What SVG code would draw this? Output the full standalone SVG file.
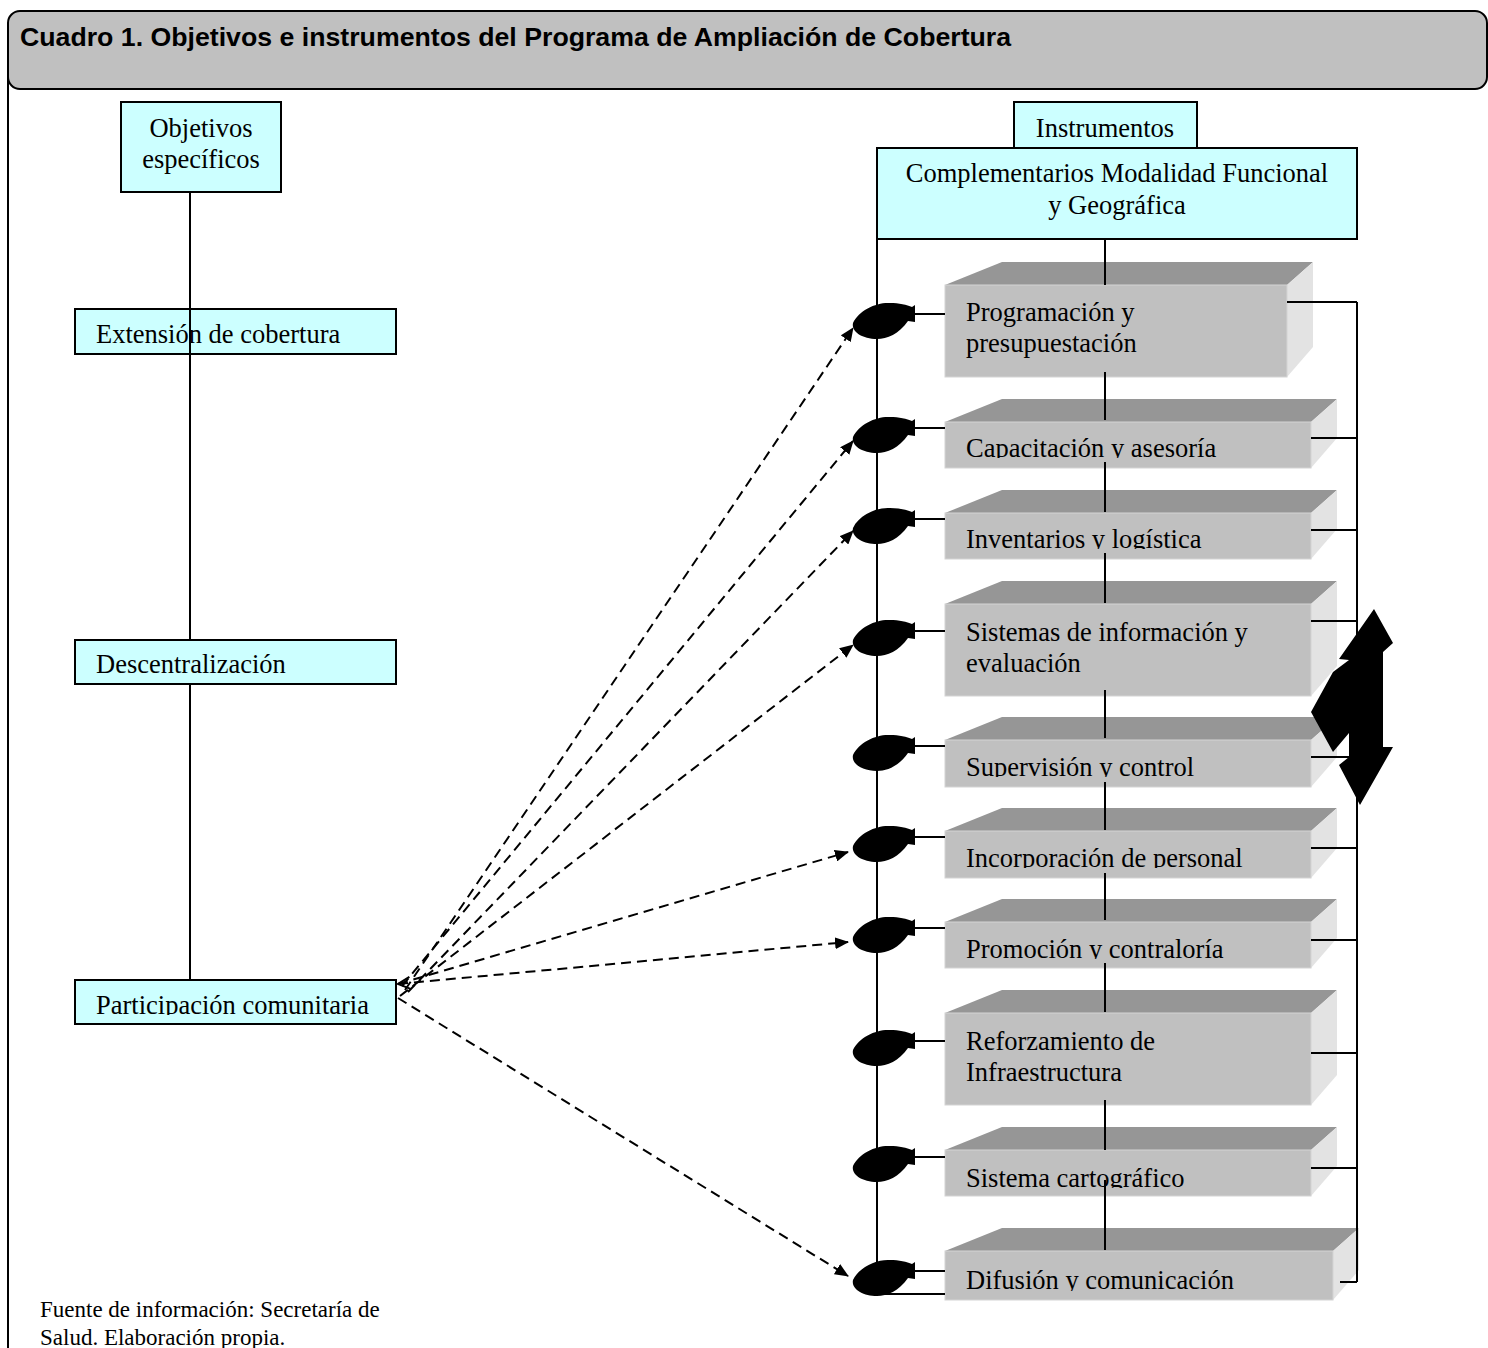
<svg xmlns="http://www.w3.org/2000/svg" width="1488" height="1348" viewBox="0 0 1488 1348">
<style>
.t{font-family:"Liberation Serif","Times New Roman",serif;font-size:26.5px;fill:#000}
.f{font-family:"Liberation Serif","Times New Roman",serif;font-size:23px;fill:#000}
.cy{fill:#ccffff;stroke:#000;stroke-width:2}
.fr{fill:#c0c0c0;stroke:#d4d4d4;stroke-width:1}
.tp{fill:#969696}
.sd{fill:#e3e3e3}
.ln{stroke:#000;stroke-width:2;fill:none}
.ds{stroke:#000;stroke-width:2;fill:none;stroke-dasharray:10 6}
.bl{fill:#000}
</style>
<defs>
<marker id="ah" markerUnits="userSpaceOnUse" markerWidth="14" markerHeight="12" refX="13" refY="6" orient="auto">
<path d="M0,0 L14,6 L0,12 Z" fill="#000"/>
</marker>
<marker id="oa" markerUnits="userSpaceOnUse" markerWidth="14" markerHeight="14" refX="1" refY="7" orient="auto">
<path d="M13,1 L1,7 L13,13" fill="none" stroke="#000" stroke-width="2"/>
</marker>
<path id="blob" d="M-24,9 C-18,-4 0,-12 13,-11 C22,-11 30,-9 35,-7 L38,-9 L38,8 L31,7 C22,20 10,25 0,25 C-14,25 -26,18 -24,9 Z"/>
<clipPath id="c2"><rect x="945" y="400" width="400" height="58"/></clipPath>
<clipPath id="c3"><rect x="945" y="490" width="400" height="59"/></clipPath>
<clipPath id="c5"><rect x="945" y="717" width="400" height="60"/></clipPath>
<clipPath id="c6"><rect x="945" y="808" width="400" height="60"/></clipPath>
<clipPath id="c7"><rect x="945" y="899" width="400" height="60"/></clipPath>
<clipPath id="c9"><rect x="945" y="1127" width="400" height="61"/></clipPath>
<clipPath id="c10"><rect x="945" y="1228" width="400" height="63"/></clipPath>
<clipPath id="cp"><rect x="75" y="980" width="321" height="35"/></clipPath>
</defs>
<rect width="1488" height="1348" fill="#fff"/>

<g id="frame">
<line x1="8" y1="70" x2="8" y2="1348" class="ln"/>
<rect x="8" y="11" width="1479" height="78" rx="12" fill="#c0c0c0" stroke="#000" stroke-width="2"/>
<text x="20" y="46" font-family="Liberation Sans,Arial,sans-serif" font-weight="bold" font-size="26.7">Cuadro 1. Objetivos e instrumentos del Programa de Ampliación de Cobertura</text>
</g>

<g id="objetivos">
<rect x="121" y="102" width="160" height="90" class="cy"/>
<text class="t" x="201" y="137" text-anchor="middle">Objetivos</text>
<text class="t" x="201" y="168" text-anchor="middle">específicos</text>
</g>
<g id="extension">
<rect x="75" y="309" width="321" height="45" class="cy"/>
<text class="t" x="96" y="343">Extensión de cobertura</text>
</g>
<g id="descentralizacion">
<rect x="75" y="640" width="321" height="44" class="cy"/>
<text class="t" x="96" y="673">Descentralización</text>
</g>
<g id="participacion">
<rect x="75" y="980" width="321" height="44" class="cy"/>
<text class="t" x="96" y="1014" clip-path="url(#cp)">Participación comunitaria</text>
</g>

<g id="instrumentos">
<rect x="1014" y="102" width="183" height="46" class="cy"/>
<text class="t" x="1105" y="137" text-anchor="middle">Instrumentos</text>
</g>
<g id="complementarios">
<rect x="877" y="148" width="480" height="91" class="cy"/>
<text class="t" x="1117" y="182" text-anchor="middle">Complementarios Modalidad Funcional</text>
<text class="t" x="1117" y="214" text-anchor="middle">y Geográfica</text>
</g>

<g id="box1">
<polygon class="tp" points="945,285 1002,262 1313,262 1287,285"/>
<polygon class="sd" points="1287,285 1313,262 1313,347 1287,377"/>
<rect class="fr" x="945" y="285" width="342" height="92"/>
<text class="t" x="966" y="321">Programación y</text>
<text class="t" x="966" y="352">presupuestación</text>
</g>
<g id="box2">
<polygon class="tp" points="945,422 1002,399 1337,399 1311,422"/>
<polygon class="sd" points="1311,422 1337,399 1337,438 1311,468"/>
<rect class="fr" x="945" y="422" width="366" height="46"/>
<text class="t" x="966" y="457" clip-path="url(#c2)">Capacitación y asesoría</text>
</g>
<g id="box3">
<polygon class="tp" points="945,513 1002,490 1337,490 1311,513"/>
<polygon class="sd" points="1311,513 1337,490 1337,529 1311,559"/>
<rect class="fr" x="945" y="513" width="366" height="46"/>
<text class="t" x="966" y="548" clip-path="url(#c3)">Inventarios y logística</text>
</g>
<g id="box4">
<polygon class="tp" points="945,604 1002,581 1337,581 1311,604"/>
<polygon class="sd" points="1311,604 1337,581 1337,666 1311,696"/>
<rect class="fr" x="945" y="604" width="366" height="92"/>
<text class="t" x="966" y="641">Sistemas de información y</text>
<text class="t" x="966" y="672">evaluación</text>
</g>
<g id="box5">
<polygon class="tp" points="945,740 1002,717 1337,717 1311,740"/>
<polygon class="sd" points="1311,740 1337,717 1337,757 1311,787"/>
<rect class="fr" x="945" y="740" width="366" height="47"/>
<text class="t" x="966" y="776" clip-path="url(#c5)">Supervisión y control</text>
</g>
<g id="box6">
<polygon class="tp" points="945,831 1002,808 1337,808 1311,831"/>
<polygon class="sd" points="1311,831 1337,808 1337,848 1311,878"/>
<rect class="fr" x="945" y="831" width="366" height="47"/>
<text class="t" x="966" y="867" clip-path="url(#c6)">Incorporación de personal</text>
</g>
<g id="box7">
<polygon class="tp" points="945,922 1002,899 1337,899 1311,922"/>
<polygon class="sd" points="1311,922 1337,899 1337,938 1311,968"/>
<rect class="fr" x="945" y="922" width="366" height="46"/>
<text class="t" x="966" y="958" clip-path="url(#c7)">Promoción y contraloría</text>
</g>
<g id="box8">
<polygon class="tp" points="945,1013 1002,990 1337,990 1311,1013"/>
<polygon class="sd" points="1311,1013 1337,990 1337,1075 1311,1105"/>
<rect class="fr" x="945" y="1013" width="366" height="92"/>
<text class="t" x="966" y="1050">Reforzamiento de</text>
<text class="t" x="966" y="1081">Infraestructura</text>
</g>
<g id="box9">
<polygon class="tp" points="945,1150 1002,1127 1337,1127 1311,1150"/>
<polygon class="sd" points="1311,1150 1337,1127 1337,1166 1311,1196"/>
<rect class="fr" x="945" y="1150" width="366" height="46"/>
<text class="t" x="966" y="1187" clip-path="url(#c9)">Sistema cartográfico</text>
</g>
<g id="box10">
<polygon class="tp" points="945,1251 1002,1228 1359,1228 1333,1251"/>
<polygon class="sd" points="1333,1251 1359,1228 1359,1270 1333,1300"/>
<rect class="fr" x="945" y="1251" width="388" height="49"/>
<text class="t" x="966" y="1289" clip-path="url(#c10)">Difusión y comunicación</text>
</g>

<g id="connectors">
<path class="ln" d="M190,192 V640 M190,684 V980"/>
<line x1="877" y1="239" x2="877" y2="1294" class="ln"/>
<line x1="877" y1="1294" x2="945" y2="1294" class="ln"/>
<path class="ln" d="M1105,239 V285 M1105,372 V420 M1105,462 V512 M1105,553 V603 M1105,690 V738 M1105,782 V830 M1105,873 V920 M1105,963 V1012 M1105,1100 V1150 M1105,1180 V1250"/>
<line x1="1357" y1="302" x2="1357" y2="1282" class="ln"/>
<path class="ln" d="M1287,302 H1357 M1311,438 H1357 M1311,530 H1357 M1311,621 H1357 M1311,757 H1357 M1311,848 H1357 M1311,940 H1357 M1311,1053 H1357 M1311,1168 H1357 M1340,1282 H1357"/>
<path class="ln" d="M915,314 H945 M915,428 H945 M915,519 H945 M915,631 H945 M915,746 H945 M915,837 H945 M915,928 H945 M915,1041 H945 M915,1157 H945 M915,1271 H945"/>
<use href="#blob" x="877" y="314" class="bl"/>
<use href="#blob" x="877" y="428" class="bl"/>
<use href="#blob" x="877" y="519" class="bl"/>
<use href="#blob" x="877" y="631" class="bl"/>
<use href="#blob" x="877" y="746" class="bl"/>
<use href="#blob" x="877" y="837" class="bl"/>
<use href="#blob" x="877" y="928" class="bl"/>
<use href="#blob" x="877" y="1041" class="bl"/>
<use href="#blob" x="877" y="1157" class="bl"/>
<use href="#blob" x="877" y="1271" class="bl"/>
<polygon class="bl" points="1374,609 1393,643 1383,652 1383,747 1393,747 1360,805 1339,765 1349,757 1349,733 1333,752 1311,712 1333,672 1349,660 1339,659"/>
<line x1="405" y1="990" x2="853" y2="328" class="ds" marker-end="url(#ah)"/>
<line x1="402" y1="986" x2="853" y2="441" class="ds" marker-end="url(#ah)"/>
<line x1="408" y1="992" x2="853" y2="531" class="ds" marker-end="url(#ah)"/>
<line x1="400" y1="996" x2="853" y2="645" class="ds" marker-end="url(#ah)"/>
<line x1="398" y1="984" x2="848" y2="852" class="ds" marker-end="url(#ah)"/>
<line x1="398" y1="984" x2="848" y2="942" class="ds" marker-start="url(#oa)" marker-end="url(#ah)"/>
<line x1="398" y1="998" x2="848" y2="1276" class="ds" marker-end="url(#ah)"/>
</g>

<g id="footer">
<text class="f" x="40" y="1317">Fuente de información: Secretaría de</text>
<text class="f" x="40" y="1345">Salud. Elaboración propia.</text>
</g>
</svg>
